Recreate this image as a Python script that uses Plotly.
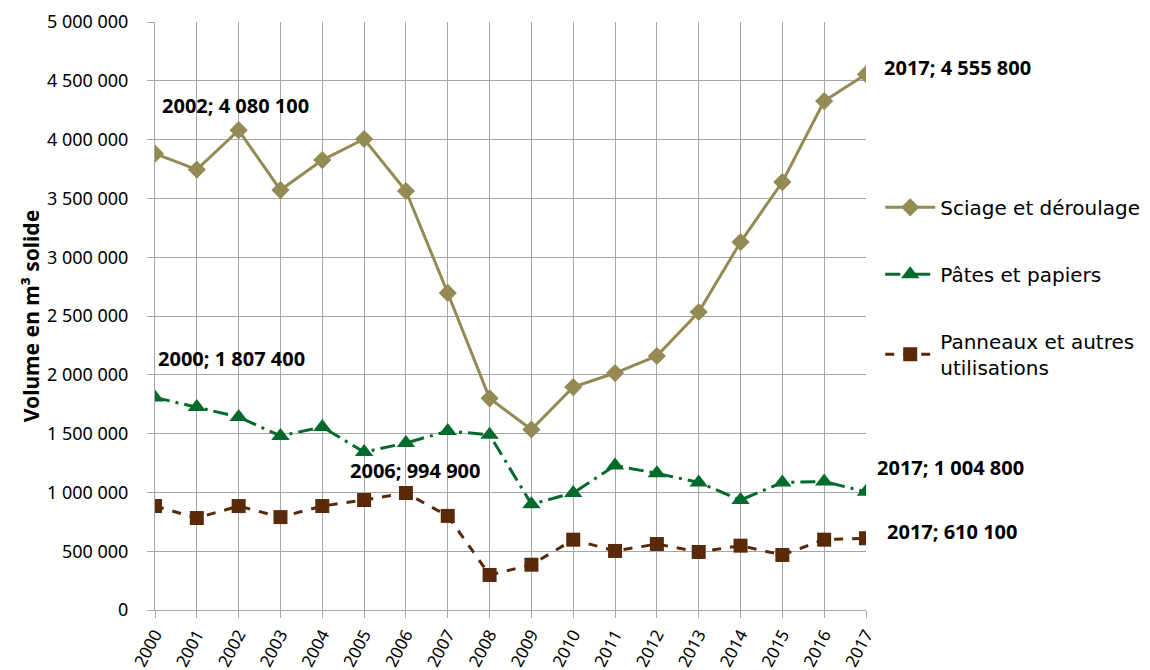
import plotly.graph_objects as go

years = list(range(2000, 2018))
sciage = [3880000, 3745000, 4080100, 3571000, 3826000, 4005000, 3563000, 2696000, 1800000,
          1535000, 1896000, 2015000, 2160000, 2534000, 3129000, 3639000, 4328000, 4555800]
pates = [1807400, 1726000, 1641000, 1480000, 1556000, 1343000, 1420000, 1522000, 1490000,
         900000, 995000, 1228000, 1162000, 1085000, 935000, 1084000, 1092000, 1004800]
panneaux = [884000, 782000, 884000, 790000, 884000, 935000, 994900, 800000, 298000,
            385000, 598000, 502000, 561000, 493000, 547000, 468000, 598000, 610100]

names = ["Sciage et déroulage", "Pâtes et papiers", "Panneaux et autres<br>utilisations"]
colors = ["#948A54", "#006B2A", "#582A0A"]

fig = go.Figure()
fig.add_trace(go.Scatter(x=years, y=sciage, name=names[0], mode="lines+markers",
                         line=dict(color=colors[0], width=3),
                         marker=dict(symbol="diamond", size=14, color=colors[0]),
                         legendgroup="a"))
fig.add_trace(go.Scatter(x=years, y=pates, name=names[1], mode="lines+markers",
                         line=dict(color=colors[1], width=3, dash="longdashdot"),
                         marker=dict(symbol="triangle-up", size=16, color=colors[1]),
                         legendgroup="b"))
fig.add_trace(go.Scatter(x=years, y=panneaux, name=names[2], mode="lines+markers",
                         line=dict(color=colors[2], width=3, dash="dash"),
                         marker=dict(symbol="square", size=14, color=colors[2]),
                         legendgroup="c"))

def fmt(v):
    return f"{v:,}".replace(",", " ")

ann_font = dict(family="Noto Sans", size=20, color="black")
labels = [
    (2002, sciage[2], "center", -3, 25),
    (2000, pates[0], "center", 76, 39),
    (2006, panneaux[6], "center", 10, 23),
    (2017, sciage[17], "left", 16, 7),
    (2017, pates[17], "left", 9, 24),
    (2017, panneaux[17], "left", 19, 7),
]
for x, y, anchor, xs, ys in labels:
    fig.add_annotation(x=x, y=y, text=f"<b>{x}; {fmt(y)}</b>", showarrow=False,
                       xanchor=anchor, yanchor="middle", xshift=xs, yshift=ys,
                       font=ann_font)

fig.update_layout(
    width=1150, height=670,
    margin=dict(l=147, r=292, t=14, b=68),
    paper_bgcolor="white", plot_bgcolor="white",
    separators=", ",
    showlegend=True,
    legend=dict(x=1.02, y=0.718, xanchor="left", yanchor="top",
                font=dict(family="DejaVu Sans", size=20, color="black"),
                tracegroupgap=38, itemwidth=50, bgcolor="rgba(0,0,0,0)"),
    xaxis=dict(range=[2000, 2017], tickmode="array", tickvals=years,
               ticktext=[str(y) for y in years], tickangle=-62,
               showgrid=True, gridcolor="#A6A6A6", gridwidth=1,
               showline=True, linecolor="#A6A6A6", linewidth=1,
               ticks="outside", ticklen=7, tickcolor="#A6A6A6",
               tickfont=dict(family="Noto Sans", size=17, color="black"),
               ticklabeloverflow="allow",
               zeroline=False, automargin=False),
    yaxis=dict(range=[0, 5000000], dtick=500000, tickformat=",d",
               showgrid=True, gridcolor="#A6A6A6", gridwidth=1,
               showline=True, linecolor="#A6A6A6", linewidth=1,
               ticks="outside", ticklen=7, tickcolor="#A6A6A6",
               ticklabelstandoff=15, ticklabeloverflow="allow",
               tickfont=dict(family="Noto Sans", size=18, color="black"),
               zeroline=False, automargin=False,
               title=dict(text="<b>Volume en m³ solide</b>",
                          font=dict(family="Noto Sans", size=21, color="black"),
                          standoff=1)),
)

fig.write_html("out.html")
